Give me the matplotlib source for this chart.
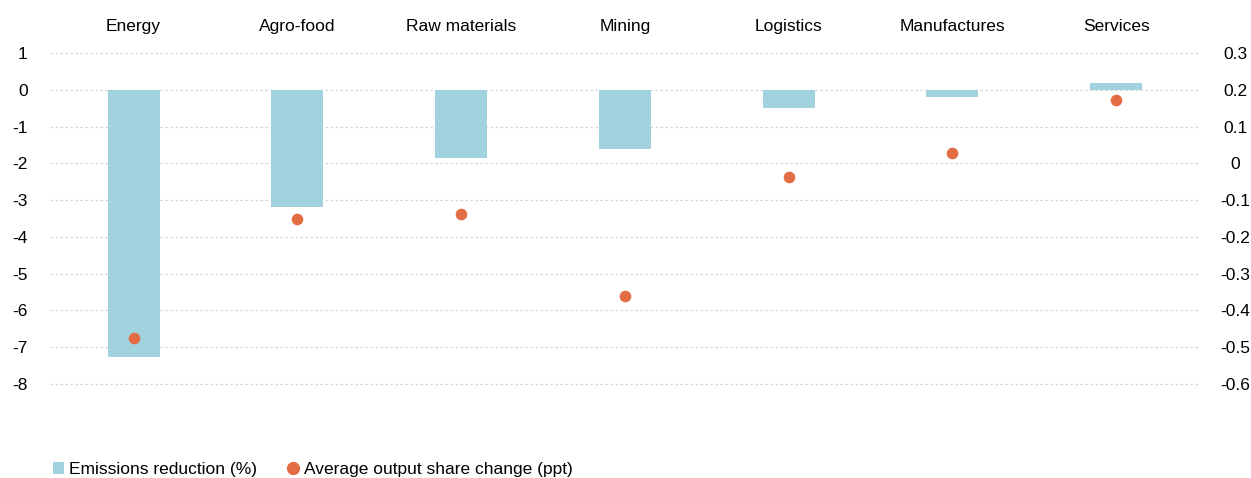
import matplotlib
matplotlib.use("Agg")
import matplotlib.pyplot as plt
from matplotlib.lines import Line2D
from matplotlib.patches import Patch

plt.rcParams['font.family'] = ['Liberation Sans', 'DejaVu Sans']

sectors = ['Energy', 'Agro-food', 'Raw materials', 'Mining', 'Logistics', 'Manufactures', 'Services']
emissions_reduction = [-7.26, -3.18, -1.85, -1.6, -0.49, -0.2, 0.18]
output_share_change = [-0.475, -0.151, -0.138, -0.361, -0.037, 0.028, 0.171]

left_ticks = [1, 0, -1, -2, -3, -4, -5, -6, -7, -8]
right_ticks = [0.3, 0.2, 0.1, 0, -0.1, -0.2, -0.3, -0.4, -0.5, -0.6]

bar_color = '#a3d2df'
dot_color = '#e36c44'
fs = 12.5

fig = plt.figure(figsize=(12.51, 4.78), dpi=100)
ax = fig.add_axes([0.04, 0.1736, 0.9177, 0.731])
x = list(range(len(sectors)))

ax.bar(x, emissions_reduction, width=0.317, color=bar_color, zorder=2)
ax.set_xlim(-0.51, 6.5)
ax.set_ylim(-8.3, 1.2)
ax.set_yticks(left_ticks)
ax.set_yticklabels([str(t) for t in left_ticks])
ax.grid(axis='y', color='#d6d6d6', linestyle=(0, (2, 2)), linewidth=0.9, zorder=0)
ax.xaxis.tick_top()
ax.set_xticks(x)
ax.set_xticklabels(sectors)
ax.tick_params(axis='x', length=0, pad=8.5, labelsize=fs)
ax.tick_params(axis='y', length=0, pad=16, labelsize=fs)
for s in ax.spines.values():
    s.set_visible(False)

ax2 = ax.twinx()
ax2.scatter(x, output_share_change, s=70, color=dot_color, zorder=3, linewidths=0)
ax2.set_ylim(0.2 - 0.83, 0.2 + 0.12)
ax2.set_yticks(right_ticks)
ax2.set_yticklabels(['0' if t == 0 else f'{t:g}' for t in right_ticks])
ax2.tick_params(axis='y', length=0, pad=27, labelsize=fs)
for lbl in ax2.get_yticklabels():
    lbl.set_horizontalalignment('center')
for s in ax2.spines.values():
    s.set_visible(False)

handles = [
    Patch(facecolor=bar_color, edgecolor='none', label='Emissions reduction (%)'),
    Line2D([], [], marker='o', linestyle='none', color=dot_color, markersize=8.5,
           label='Average output share change (ppt)'),
]
fig.legend(handles=handles, loc='lower left', bbox_to_anchor=(0.037, -0.012), ncol=2,
           frameon=False, fontsize=fs, handlelength=0.6, handletextpad=0.3,
           columnspacing=1.8, borderaxespad=0)

fig.savefig('out.png', dpi=100)
